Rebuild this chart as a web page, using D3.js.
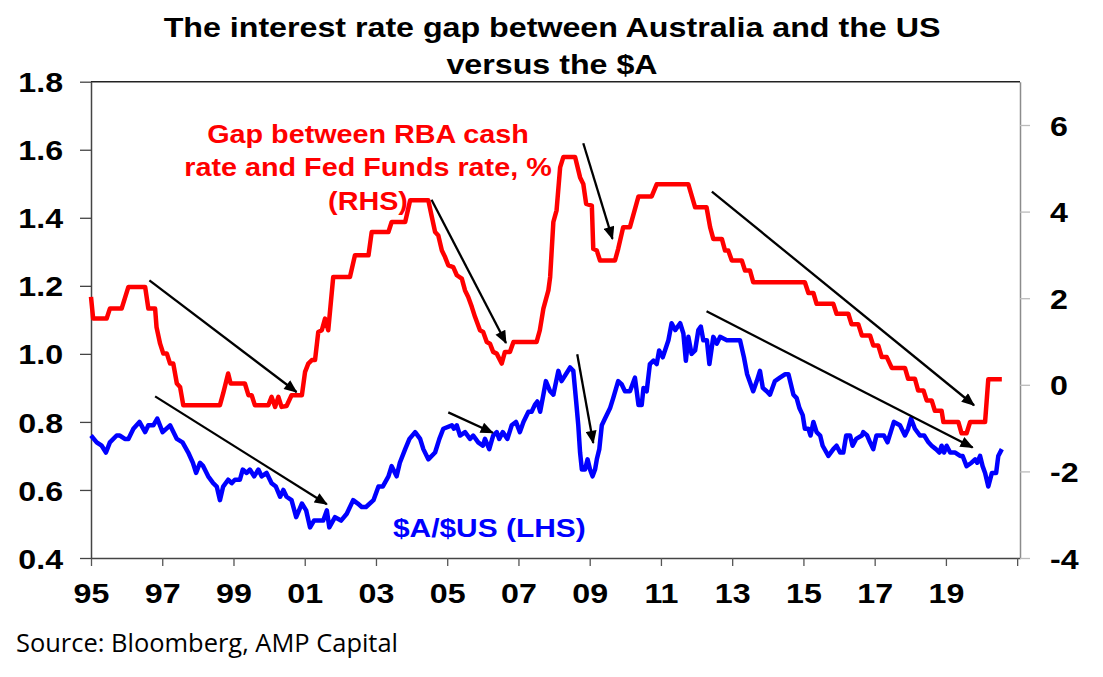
<!DOCTYPE html>
<html>
<head>
<meta charset="utf-8">
<script src="https://cdn.jsdelivr.net/npm/d3@7"></script>
<style>
  body { margin: 0; background: #fff; }
  svg { display: block; }
</style>
</head>
<body>
<svg id="chart"></svg>
<script>
// gap between RBA cash rate and Fed Funds rate, % (RHS) - step series
const gapYears = [1995.00,1995.06,1995.44,1995.53,1995.86,1996.05,1996.52,1996.61,1996.80,1996.84,1996.94,1997.03,1997.13,1997.22,1997.31,1997.41,1997.50,1997.59,1998.62,1998.71,1998.85,1998.92,1999.32,1999.42,1999.51,1999.60,1999.98,2000.07,2000.17,2000.26,2000.35,2000.49,2000.63,2000.92,2001.01,2001.10,2001.20,2001.29,2001.38,2001.48,2001.57,2001.66,2001.80,2002.27,2002.41,2002.79,2002.88,2003.35,2003.44,2003.82,2003.96,2004.47,2004.56,2004.66,2004.75,2004.85,2004.94,2005.03,2005.17,2005.27,2005.41,2005.50,2005.59,2005.69,2005.78,2005.92,2006.01,2006.11,2006.20,2006.29,2006.39,2006.53,2006.62,2006.76,2006.86,2007.51,2007.60,2007.70,2007.79,2007.84,2007.89,2007.98,2008.07,2008.17,2008.26,2008.59,2008.73,2008.82,2008.90,2009.06,2009.10,2009.20,2009.29,2009.71,2009.80,2009.94,2010.13,2010.37,2010.74,2010.88,2011.77,2011.96,2012.28,2012.38,2012.47,2012.71,2012.80,2012.89,2012.99,2013.27,2013.36,2013.50,2013.59,2015.04,2015.14,2015.28,2015.37,2015.84,2015.93,2016.26,2016.35,2016.54,2016.64,2016.87,2016.96,2017.10,2017.20,2017.34,2017.48,2017.85,2017.94,2018.13,2018.22,2018.37,2018.46,2018.60,2018.69,2018.88,2018.93,2019.35,2019.44,2019.58,2019.68,2020.10,2020.19,2020.57];
const gapValues = [2.03,1.53,1.53,1.76,1.76,2.26,2.26,1.76,1.76,1.33,0.95,0.72,0.72,0.49,0.49,0.03,-0.05,-0.47,-0.47,-0.20,0.26,0.03,0.03,-0.24,-0.24,-0.47,-0.47,-0.28,-0.51,-0.28,-0.51,-0.49,-0.24,-0.24,0.30,0.49,0.57,0.57,1.22,1.26,1.53,1.26,2.49,2.49,2.99,2.99,3.53,3.53,3.76,3.76,4.26,4.26,3.91,3.53,3.45,3.10,2.95,2.76,2.72,2.53,2.45,2.18,2.03,1.80,1.57,1.26,1.22,0.99,0.95,0.76,0.72,0.49,0.76,0.76,0.99,0.99,1.26,1.76,2.03,2.18,2.49,3.76,4.03,5.02,5.26,5.26,4.79,4.64,4.18,4.14,3.14,3.10,2.87,2.87,3.14,3.64,3.64,4.35,4.35,4.63,4.63,4.10,4.10,3.64,3.37,3.37,3.10,3.10,2.87,2.87,2.64,2.64,2.37,2.37,2.12,2.12,1.87,1.87,1.64,1.64,1.40,1.40,1.14,1.14,0.91,0.91,0.64,0.64,0.39,0.39,0.14,0.14,-0.13,-0.13,-0.36,-0.36,-0.60,-0.60,-0.86,-0.86,-1.12,-1.12,-0.86,-0.86,0.13,0.13];

// $A/$US (LHS)
const audYears = [1995.00,1995.16,1995.30,1995.42,1995.53,1995.72,1995.81,1995.95,1996.05,1996.19,1996.36,1996.52,1996.61,1996.75,1996.86,1997.01,1997.22,1997.41,1997.57,1997.73,1997.86,1997.95,1998.06,1998.15,1998.29,1998.43,1998.53,1998.62,1998.71,1998.85,1998.95,1999.04,1999.18,1999.26,1999.37,1999.46,1999.58,1999.70,1999.79,1999.93,2000.07,2000.19,2000.31,2000.40,2000.49,2000.63,2000.76,2000.92,2001.04,2001.15,2001.26,2001.43,2001.52,2001.62,2001.69,2001.85,2002.02,2002.18,2002.36,2002.49,2002.60,2002.72,2002.93,2003.07,2003.19,2003.35,2003.44,2003.58,2003.67,2003.82,2003.94,2004.10,2004.24,2004.33,2004.47,2004.66,2004.78,2004.89,2005.13,2005.19,2005.27,2005.36,2005.50,2005.64,2005.73,2005.87,2006.00,2006.06,2006.18,2006.29,2006.39,2006.46,2006.56,2006.69,2006.81,2006.93,2007.04,2007.14,2007.28,2007.37,2007.46,2007.53,2007.61,2007.70,2007.77,2007.89,2007.98,2008.12,2008.21,2008.45,2008.54,2008.62,2008.68,2008.73,2008.78,2008.87,2008.94,2009.01,2009.08,2009.15,2009.20,2009.27,2009.34,2009.43,2009.57,2009.66,2009.80,2009.90,2009.99,2010.13,2010.27,2010.37,2010.46,2010.51,2010.60,2010.69,2010.79,2010.88,2010.95,2011.05,2011.21,2011.30,2011.40,2011.54,2011.63,2011.70,2011.77,2011.86,2011.96,2012.05,2012.12,2012.19,2012.29,2012.36,2012.47,2012.57,2012.66,2012.85,2013.03,2013.22,2013.33,2013.42,2013.59,2013.69,2013.78,2013.86,2013.97,2014.06,2014.20,2014.34,2014.48,2014.58,2014.72,2014.81,2014.89,2014.98,2015.04,2015.14,2015.20,2015.28,2015.37,2015.47,2015.54,2015.70,2015.84,2015.93,2016.03,2016.12,2016.20,2016.31,2016.38,2016.48,2016.64,2016.68,2016.79,2016.87,2016.96,2017.05,2017.15,2017.26,2017.36,2017.45,2017.54,2017.71,2017.85,2017.94,2018.02,2018.13,2018.27,2018.39,2018.51,2018.60,2018.72,2018.82,2018.88,2018.95,2019.02,2019.12,2019.26,2019.40,2019.47,2019.58,2019.72,2019.82,2019.88,2019.96,2020.03,2020.10,2020.19,2020.29,2020.41,2020.47,2020.57];
const audValues = [0.76,0.74,0.73,0.71,0.74,0.76,0.76,0.75,0.75,0.78,0.80,0.77,0.79,0.79,0.81,0.77,0.79,0.75,0.74,0.71,0.68,0.65,0.68,0.67,0.64,0.62,0.61,0.57,0.61,0.63,0.62,0.63,0.63,0.66,0.65,0.66,0.64,0.66,0.64,0.65,0.62,0.61,0.58,0.60,0.58,0.57,0.52,0.56,0.54,0.49,0.51,0.51,0.51,0.54,0.49,0.52,0.51,0.53,0.57,0.56,0.55,0.55,0.57,0.61,0.61,0.64,0.67,0.64,0.68,0.72,0.75,0.77,0.75,0.72,0.69,0.71,0.75,0.78,0.79,0.78,0.79,0.76,0.77,0.75,0.76,0.74,0.73,0.75,0.72,0.76,0.77,0.75,0.77,0.75,0.79,0.80,0.77,0.80,0.83,0.83,0.85,0.86,0.83,0.88,0.92,0.89,0.88,0.95,0.92,0.96,0.95,0.86,0.79,0.71,0.66,0.66,0.69,0.66,0.64,0.66,0.69,0.72,0.79,0.81,0.84,0.87,0.92,0.91,0.89,0.89,0.93,0.85,0.85,0.90,0.89,0.97,0.98,0.97,1.01,0.99,1.04,1.09,1.07,1.09,1.06,0.98,1.05,1.00,1.01,1.07,1.08,1.04,1.04,0.97,1.05,1.03,1.05,1.04,1.04,1.04,0.99,0.94,0.89,0.92,0.95,0.90,0.89,0.88,0.92,0.93,0.94,0.94,0.88,0.87,0.84,0.82,0.78,0.78,0.76,0.80,0.77,0.76,0.73,0.70,0.72,0.73,0.71,0.71,0.76,0.76,0.73,0.75,0.76,0.77,0.76,0.74,0.72,0.76,0.76,0.76,0.74,0.77,0.80,0.79,0.76,0.78,0.81,0.78,0.76,0.76,0.74,0.73,0.72,0.71,0.73,0.71,0.73,0.71,0.71,0.70,0.70,0.67,0.68,0.69,0.68,0.70,0.67,0.65,0.61,0.65,0.65,0.70,0.72];

// trend arrows, in [year, LHS value] coordinates
const arrowStarts = [[1996.64,1.216],[1996.80,0.875],[2004.56,1.453],[2005.03,0.828],[2008.82,1.619],[2008.65,0.999],[2012.43,1.477],[2012.28,1.125]];
const arrowEnds   = [[2000.77,0.888],[2001.62,0.558],[2006.65,1.032],[2006.28,0.768],[2009.64,1.338],[2009.10,0.738],[2019.79,0.849],[2019.75,0.725]];

const xTicks = [1995,1997,1999,2001,2003,2005,2007,2009,2011,2013,2015,2017,2019,2021];
const leftTicks = [0.4,0.6,0.8,1.0,1.2,1.4,1.6,1.8];
const rightTicks = [-4,-2,0,2,4,6];

const W = 1103, H = 677;
const plotLeft = 91, plotRight = 1020, plotTop = 81.7, plotBottom = 558;
const font = "'Liberation Sans', Arial, sans-serif";
const stretch = "scale(1.15,1)";

const svg = d3.select("#chart").attr("width", W).attr("height", H);
svg.append("rect").attr("width", W).attr("height", H).attr("fill", "#fff");

const x = d3.scaleLinear().domain([1995, 2021.08]).range([plotLeft, plotRight]);
const yL = d3.scaleLinear().domain([0.4, 1.8]).range([plotBottom, plotTop]);
const yR = d3.scaleLinear().domain([-4, 7]).range([plotBottom, plotTop]);

// axes
const gx = svg.append("g")
    .attr("transform", `translate(0,${plotBottom})`)
    .call(d3.axisBottom(x).tickValues(xTicks).tickSize(8).tickSizeOuter(0)
        .tickFormat(d => d === 2021 ? "" : String(d).slice(2)));
gx.select(".domain").attr("stroke", "#444").attr("stroke-width", 1.5);
gx.selectAll(".tick line").attr("stroke", "#555").attr("stroke-width", 1.3);
gx.selectAll(".tick text")
    .attr("y", 44.7).attr("dy", 0)
    .attr("transform", stretch)
    .style("font-family", font).style("font-size", "28px")
    .style("font-weight", "bold").attr("fill", "#000");

const gl = svg.append("g")
    .attr("transform", `translate(${plotLeft},0)`)
    .call(d3.axisLeft(yL).tickValues(leftTicks).tickSize(11).tickSizeOuter(0)
        .tickFormat(d3.format(".1f")));
gl.select(".domain").attr("stroke", "#444").attr("stroke-width", 1.5);
gl.selectAll(".tick line").attr("stroke", "#444").attr("stroke-width", 1.3);
gl.selectAll(".tick text")
    .attr("x", -24.3).attr("dy", "0.36em")
    .attr("transform", stretch)
    .style("font-family", font).style("font-size", "28px")
    .style("font-weight", "bold").attr("fill", "#000");

const gr = svg.append("g")
    .attr("transform", `translate(${plotRight},0)`)
    .call(d3.axisRight(yR).tickValues(rightTicks).tickSize(10).tickSizeOuter(0)
        .tickFormat(d => String(d)));
gr.select(".domain").attr("stroke", "#8c8c8c").attr("stroke-width", 1.5);
gr.selectAll(".tick line").attr("stroke", "#bbb").attr("stroke-width", 1.3);
gr.selectAll(".tick text")
    .attr("x", 26.1).attr("dy", "0.36em")
    .attr("transform", stretch)
    .style("font-family", font).style("font-size", "28px")
    .style("font-weight", "bold").attr("fill", "#000");

// top border
svg.append("line")
    .attr("x1", plotLeft).attr("x2", plotRight).attr("y1", plotTop).attr("y2", plotTop)
    .attr("stroke", "#222").attr("stroke-width", 1.5);

// series
const gapData = gapYears.map((d, i) => [d, gapValues[i]]);
const audData = audYears.map((d, i) => [d, audValues[i]]);

svg.append("path")
    .datum(gapData)
    .attr("fill", "none")
    .attr("stroke", "#ff0000")
    .attr("stroke-width", 4.5)
    .attr("stroke-linejoin", "round")
    .attr("d", d3.line().x(d => x(d[0])).y(d => yR(d[1])));

svg.append("path")
    .datum(audData)
    .attr("fill", "none")
    .attr("stroke", "#0000ff")
    .attr("stroke-width", 4.5)
    .attr("stroke-linejoin", "round")
    .attr("d", d3.line().x(d => x(d[0])).y(d => yL(d[1])));

// arrows
svg.append("defs").append("marker")
    .attr("id", "head")
    .attr("markerUnits", "userSpaceOnUse")
    .attr("viewBox", "0 0 12 10")
    .attr("markerWidth", 14).attr("markerHeight", 11)
    .attr("refX", 11).attr("refY", 5)
    .attr("orient", "auto")
    .append("path").attr("d", "M0,0 L12,5 L0,10 Z").attr("fill", "#000");

svg.selectAll(".arrow")
    .data(arrowStarts)
    .enter().append("line")
    .attr("class", "arrow")
    .attr("x1", d => x(d[0])).attr("y1", d => yL(d[1]))
    .attr("x2", (d, i) => x(arrowEnds[i][0])).attr("y2", (d, i) => yL(arrowEnds[i][1]))
    .attr("stroke", "#000").attr("stroke-width", 2.3)
    .attr("marker-end", "url(#head)");

// texts
function label(str, px, py, size, color, anchor) {
    svg.append("text")
        .attr("transform", `translate(${px},${py}) ${stretch}`)
        .attr("text-anchor", anchor || "middle")
        .style("font-family", font)
        .style("font-size", size + "px")
        .style("font-weight", "bold")
        .attr("fill", color)
        .text(str);
}

label("The interest rate gap between Australia and the US", 552, 36.7, 28, "#000");
label("versus the $A", 552, 74, 28, "#000");

label("Gap between RBA cash", 368, 143, 25, "#ff0000");
label("rate and Fed Funds rate, %", 368, 176, 25, "#ff0000");
label("(RHS)", 368, 210, 25, "#ff0000");

label("$A/$US (LHS)", 393, 537, 26, "#0000ff", "start");

svg.append("text")
    .attr("x", 16).attr("y", 652)
    .attr("textLength", 382).attr("lengthAdjust", "spacingAndGlyphs")
    .style("font-family", "'Open Sans', 'Noto Sans', sans-serif")
    .style("font-size", "26px")
    .attr("fill", "#000")
    .text("Source: Bloomberg, AMP Capital");
</script>
</body>
</html>
